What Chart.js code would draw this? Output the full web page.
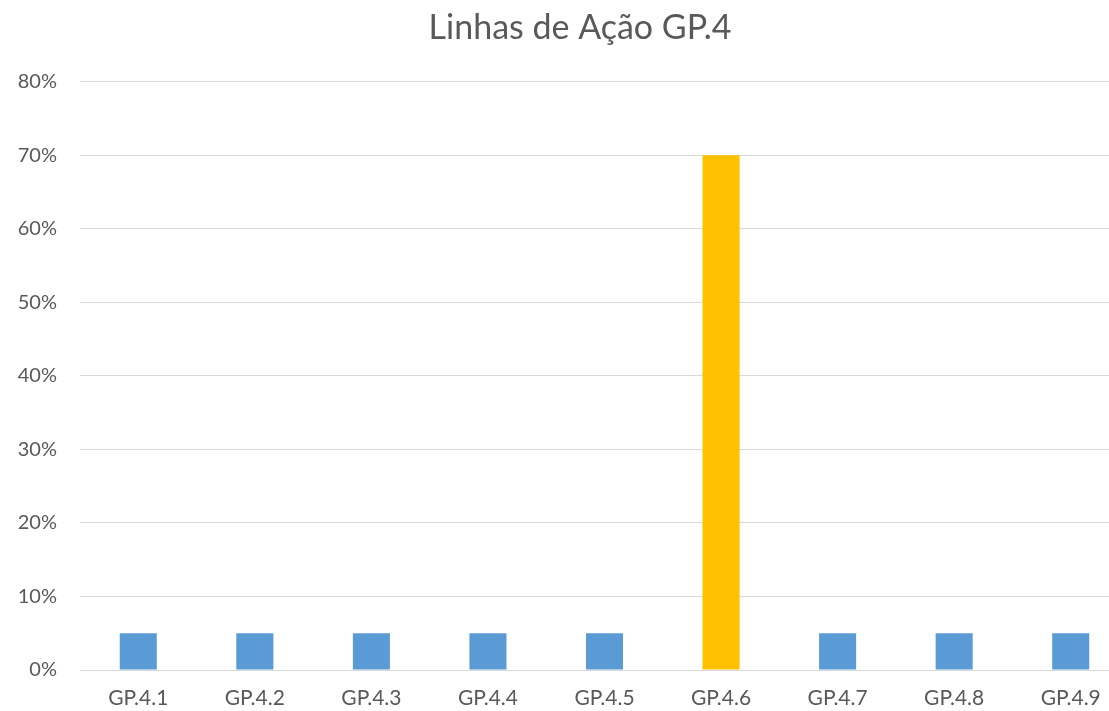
<!DOCTYPE html>
<html>
<head>
<meta charset="utf-8">
<script src="https://cdn.jsdelivr.net/npm/chart.js@4"></script>
<style>
  html, body { margin: 0; padding: 0; background: #fff; overflow: hidden; }
  #wrap { width: 1160px; height: 711px; }
</style>
</head>
<body>
<div id="wrap"><canvas id="chart" width="1160" height="711"></canvas></div>
<script>
// Chart data
const categories = ['GP.4.1', 'GP.4.2', 'GP.4.3', 'GP.4.4', 'GP.4.5', 'GP.4.6', 'GP.4.7', 'GP.4.8', 'GP.4.9'];
const values = [0.05, 0.05, 0.05, 0.05, 0.05, 0.70, 0.05, 0.05, 0.05];
const highlighted = ['GP.4.6'];
const yTicks = [0, 0.1, 0.2, 0.3, 0.4, 0.5, 0.6, 0.7, 0.8];

const blue = '#5B9BD5';
const gold = '#FFC000';
const textGray = '#595959';
const font = "Lato, 'Open Sans', sans-serif";

const barColors = categories.map(c => highlighted.includes(c) ? gold : blue);

const ctx = document.getElementById('chart').getContext('2d');
const chart = new Chart(ctx, {
  type: 'bar',
  data: {
    labels: categories,
    datasets: [{
      data: values,
      backgroundColor: barColors,
      borderWidth: 0,
      categoryPercentage: 1,
      barPercentage: 0.318
    }]
  },
  options: {
    responsive: false,
    animation: false,
    layout: { padding: 0 },
    plugins: {
      legend: { display: false },
      tooltip: { enabled: false },
      title: {
        display: true,
        text: 'Linhas de Ação GP.4',
        color: textGray,
        font: { family: font, size: 34, weight: 'normal' },
        padding: { top: 8, bottom: 33 }
      }
    },
    scales: {
      x: {
        grid: { display: false, drawTicks: false },
        border: { color: '#D9D9D9', width: 1 },
        ticks: { color: textGray, font: { family: font, size: 21 }, padding: 16 },
        afterFit: s => { s.height = 41; }
      },
      y: {
        min: 0,
        max: 0.8,
        afterBuildTicks: s => { s.ticks = yTicks.map(v => ({ value: v })); },
        grid: { color: '#D9D9D9', lineWidth: 1, drawTicks: false },
        border: { display: false },
        ticks: {
          color: textGray,
          font: { family: font, size: 20 },
          padding: 23,
          callback: v => Math.round(v * 100) + '%'
        },
        afterFit: s => { s.width = 80; }
      },
      // empty right-hand axis, only keeps the plot clear of the right edge
      yRight: {
        position: 'right',
        grid: { display: false, drawTicks: false },
        border: { display: false },
        ticks: { display: false },
        afterFit: s => { s.width = 31; }
      }
    }
  }
});
</script>
</body>
</html>
